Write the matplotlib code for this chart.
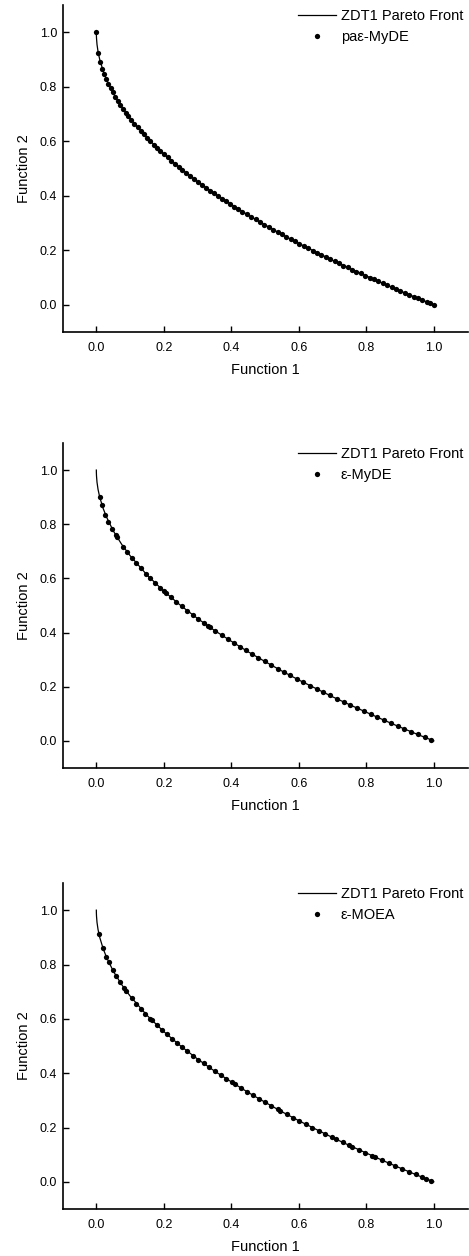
import matplotlib
matplotlib.use('Agg')
import matplotlib.pyplot as plt

plt.rcParams['font.family'] = ['Liberation Sans', 'DejaVu Sans']

# ZDT1 Pareto front
front_f1 = [0.0, 0.0001, 0.0005, 0.002, 0.005, 0.01, 0.02, 0.03, 0.05, 0.075, 0.1, 0.15, 0.2, 0.25,
            0.3, 0.35, 0.4, 0.45, 0.5, 0.55, 0.6, 0.65, 0.7, 0.75, 0.8, 0.85, 0.9, 0.95, 1.0]
front_f2 = [1.0, 0.990, 0.978, 0.955, 0.929, 0.900, 0.859, 0.827, 0.776, 0.726, 0.684, 0.613, 0.553, 0.500,
            0.452, 0.408, 0.368, 0.329, 0.293, 0.258, 0.225, 0.194, 0.163, 0.134, 0.106, 0.078, 0.051, 0.025, 0.0]

# pa-eps-MyDE solutions
pa_f1 = [0.0, 0.006, 0.012, 0.018, 0.024, 0.030, 0.036, 0.042, 0.049, 0.056, 0.063, 0.071, 0.079, 0.087,
         0.095, 0.104, 0.113, 0.122, 0.131, 0.140, 0.150, 0.160, 0.170, 0.180, 0.190, 0.200, 0.211, 0.222,
         0.233, 0.244, 0.255, 0.266, 0.277, 0.289, 0.301, 0.313, 0.325, 0.337, 0.349, 0.361, 0.373, 0.385,
         0.397, 0.409, 0.421, 0.433, 0.446, 0.459, 0.472, 0.485, 0.498, 0.511, 0.524, 0.537, 0.550, 0.563,
         0.576, 0.589, 0.602, 0.615, 0.628, 0.641, 0.654, 0.667, 0.680, 0.693, 0.706, 0.719, 0.732, 0.745,
         0.758, 0.771, 0.784, 0.797, 0.810, 0.823, 0.836, 0.849, 0.862, 0.875, 0.888, 0.901, 0.914, 0.927,
         0.940, 0.953, 0.966, 0.979, 0.990, 1.000]
pa_f2 = [1.000, 0.923, 0.890, 0.866, 0.845, 0.827, 0.810, 0.795, 0.779, 0.763, 0.749, 0.734, 0.719, 0.705,
         0.692, 0.678, 0.664, 0.651, 0.638, 0.626, 0.613, 0.600, 0.588, 0.576, 0.564, 0.553, 0.541, 0.529,
         0.517, 0.506, 0.495, 0.484, 0.474, 0.462, 0.451, 0.441, 0.430, 0.419, 0.409, 0.399, 0.389, 0.380,
         0.370, 0.360, 0.351, 0.342, 0.332, 0.322, 0.313, 0.304, 0.294, 0.285, 0.276, 0.267, 0.258, 0.250,
         0.241, 0.233, 0.224, 0.216, 0.208, 0.199, 0.191, 0.183, 0.175, 0.168, 0.160, 0.152, 0.144, 0.137,
         0.129, 0.122, 0.115, 0.107, 0.100, 0.093, 0.086, 0.079, 0.072, 0.065, 0.058, 0.051, 0.044, 0.037,
         0.030, 0.024, 0.017, 0.011, 0.005, 0.000]

# eps-MyDE solutions
my_f1 = [0.010, 0.017, 0.027, 0.036, 0.047, 0.057, 0.061, 0.080, 0.092, 0.105, 0.118, 0.132, 0.146, 0.160,
         0.175, 0.190, 0.200, 0.205, 0.221, 0.237, 0.253, 0.269, 0.285, 0.302, 0.319, 0.331, 0.336, 0.353,
         0.371, 0.389, 0.407, 0.425, 0.443, 0.461, 0.480, 0.499, 0.518, 0.537, 0.556, 0.575, 0.594, 0.613,
         0.633, 0.653, 0.673, 0.693, 0.713, 0.733, 0.753, 0.773, 0.793, 0.813, 0.833, 0.853, 0.873, 0.893,
         0.913, 0.933, 0.953, 0.973, 0.993]
my_f2 = [0.900, 0.870, 0.836, 0.810, 0.783, 0.761, 0.753, 0.717, 0.697, 0.676, 0.656, 0.637, 0.618, 0.600,
         0.582, 0.564, 0.553, 0.547, 0.530, 0.513, 0.497, 0.481, 0.466, 0.450, 0.435, 0.425, 0.420, 0.406,
         0.391, 0.376, 0.362, 0.348, 0.334, 0.321, 0.307, 0.294, 0.280, 0.267, 0.254, 0.242, 0.229, 0.217,
         0.204, 0.192, 0.180, 0.168, 0.156, 0.144, 0.132, 0.121, 0.110, 0.098, 0.087, 0.076, 0.066, 0.055,
         0.045, 0.034, 0.024, 0.014, 0.003]

# eps-MOEA solutions
moea_f1 = [0.008, 0.019, 0.030, 0.037, 0.048, 0.058, 0.070, 0.082, 0.088, 0.105, 0.118, 0.131, 0.145, 0.159,
           0.165, 0.179, 0.194, 0.209, 0.224, 0.239, 0.254, 0.270, 0.286, 0.302, 0.318, 0.334, 0.351, 0.368,
           0.385, 0.402, 0.410, 0.428, 0.446, 0.464, 0.482, 0.500, 0.519, 0.538, 0.545, 0.564, 0.583, 0.602,
           0.621, 0.640, 0.659, 0.678, 0.697, 0.711, 0.731, 0.748, 0.757, 0.777, 0.797, 0.817, 0.826, 0.846,
           0.866, 0.886, 0.906, 0.926, 0.946, 0.966, 0.978, 0.992]
moea_f2 = [0.911, 0.862, 0.827, 0.808, 0.781, 0.759, 0.735, 0.714, 0.703, 0.676, 0.656, 0.638, 0.619, 0.601,
           0.594, 0.577, 0.560, 0.543, 0.527, 0.511, 0.496, 0.480, 0.465, 0.450, 0.436, 0.422, 0.408, 0.393,
           0.380, 0.366, 0.360, 0.346, 0.332, 0.319, 0.306, 0.293, 0.280, 0.267, 0.262, 0.249, 0.236, 0.224,
           0.212, 0.200, 0.188, 0.177, 0.165, 0.157, 0.145, 0.135, 0.130, 0.119, 0.107, 0.096, 0.091, 0.080,
           0.069, 0.059, 0.048, 0.038, 0.027, 0.017, 0.011, 0.004]

panels = [
    ('pa\u03b5-MyDE', pa_f1, pa_f2),
    ('\u03b5-MyDE', my_f1, my_f2),
    ('\u03b5-MOEA', moea_f1, moea_f2),
]
# axes boxes in pixels: (top, bottom)
boxes = [(5, 332), (443, 768), (883, 1209)]

W, H = 469, 1256
fig = plt.figure(figsize=(W / 100, H / 100), dpi=100)

for (name, f1, f2), (top, bot) in zip(panels, boxes):
    ax = fig.add_axes([62.6 / W, 1 - bot / H, (467.5 - 62.6) / W, (bot - top) / H])
    ax.plot(front_f1, front_f2, color='black', lw=0.9, label='ZDT1 Pareto Front')
    ax.plot(f1, f2, 'o', color='black', ms=3.8, mew=0, label=name)
    ax.set_xlim(-0.1, 1.1)
    ax.set_ylim(-0.1, 1.1)
    ax.set_xticks([0.0, 0.2, 0.4, 0.6, 0.8, 1.0])
    ax.set_yticks([0.0, 0.2, 0.4, 0.6, 0.8, 1.0])
    ax.xaxis.set_major_formatter(matplotlib.ticker.FormatStrFormatter('%.1f'))
    ax.yaxis.set_major_formatter(matplotlib.ticker.FormatStrFormatter('%.1f'))
    ax.spines['top'].set_visible(False)
    ax.spines['right'].set_visible(False)
    ax.spines['left'].set_linewidth(1.2)
    ax.spines['bottom'].set_linewidth(1.2)
    ax.tick_params(direction='in', length=4.5, width=1.0, labelsize=9)
    ax.tick_params(axis='x', pad=7)
    ax.tick_params(axis='y', pad=4)
    ax.set_xlabel('Function 1', fontsize=10.5, labelpad=7)
    ax.set_ylabel('Function 2', fontsize=10.5, labelpad=6)
    ax.legend(loc='upper right', frameon=False, fontsize=10.5, handlelength=2.6,
              handletextpad=0.3, borderaxespad=0.0, borderpad=0.3, labelspacing=0.45)

fig.savefig('out.png', dpi=100)
